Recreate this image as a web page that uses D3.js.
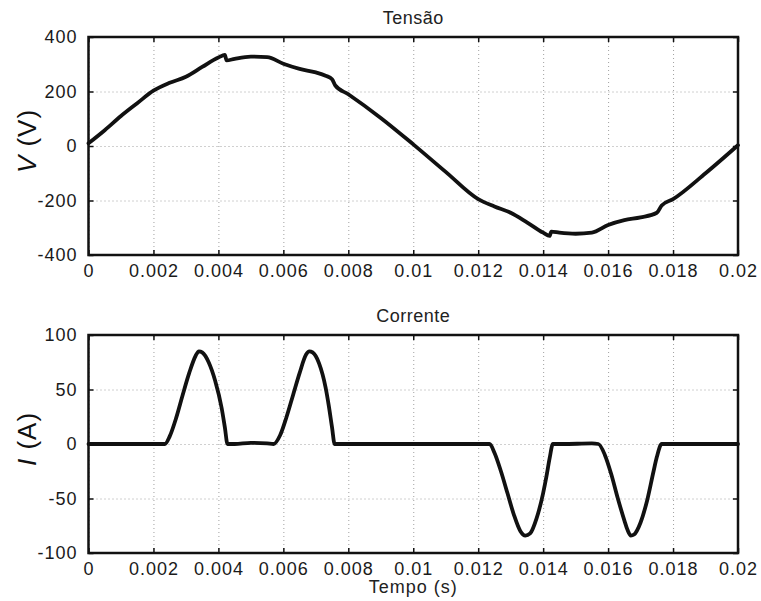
<!DOCTYPE html>
<html>
<head>
<meta charset="utf-8">
<script src="https://cdn.jsdelivr.net/npm/d3@7"></script>
<style>
  body { margin: 0; background: #fff; }
  svg { display: block; font-family: "Liberation Sans", Arial, sans-serif; }
  .tick text { font-size: 18px; fill: #1a1a1a; letter-spacing: 1px; }
  .grid line { stroke: #a0a0a0; stroke-width: 1; stroke-dasharray: 1,3; }
  .grid path, .edge path { display: none; }
  .edge line { stroke: #111; stroke-width: 1.5; }
  .wave { fill: none; stroke: #111; stroke-width: 3.8; stroke-linejoin: round; stroke-linecap: round; }
</style>
</head>
<body>
<svg id="chart" width="761" height="601"></svg>
<script>
// time ticks (s)
const timeTicks = [0, 0.002, 0.004, 0.006, 0.008, 0.01, 0.012, 0.014, 0.016, 0.018, 0.02];
const voltTicks = [-400, -200, 0, 200, 400];
const ampTicks = [-100, -50, 0, 50, 100];

// Tensão
const tVolt = [0, 0.0005, 0.001, 0.0015, 0.002, 0.0025, 0.003, 0.0035, 0.004, 0.0042, 0.00425, 0.0045, 0.005, 0.0055,
  0.006, 0.0065, 0.007, 0.0073, 0.0075, 0.0076, 0.008, 0.009, 0.01, 0.011, 0.012, 0.0125, 0.013, 0.0135, 0.014,
  0.0142, 0.01425, 0.0145, 0.015, 0.0155, 0.016, 0.0165, 0.017, 0.0175, 0.01765, 0.018, 0.019, 0.02];
const volt = [10, 58, 110, 157, 203, 232, 254, 290, 325, 334, 314, 320, 328, 326,
  302, 283, 270, 258, 245, 222, 190, 103, 6, -95, -195, -222, -245, -280, -318,
  -330, -314, -318, -322, -318, -290, -272, -262, -245, -218, -195, -100, 3];

// Corrente
const tAmp = [0, 0.00235, 0.0025, 0.0027, 0.0029, 0.0031, 0.0033, 0.0034, 0.0035, 0.0037, 0.0039, 0.0041, 0.0042, 0.00428,
  0.0045, 0.005, 0.0055, 0.0057, 0.0059, 0.0061, 0.0063, 0.0065, 0.0067, 0.0068, 0.0069, 0.0071, 0.0073, 0.0074, 0.0075, 0.00758,
  0.008, 0.01, 0.01235, 0.0125, 0.0127, 0.0129, 0.0131, 0.0133, 0.01345, 0.0136, 0.0138, 0.014, 0.0141, 0.0142, 0.0143,
  0.0146, 0.0155, 0.0157, 0.0159, 0.0161, 0.0163, 0.0165, 0.0166, 0.0167, 0.0168, 0.017, 0.0172, 0.0174, 0.0175, 0.01765,
  0.018, 0.02];
const amp = [0, 0, 7, 24, 45, 65, 81, 85, 84, 75, 58, 33, 15, 0,
  0, 1, 0.5, 0, 8, 25, 45, 65, 82, 85, 84, 74, 52, 35, 15, 0,
  0, 0, 0, -8, -25, -45, -65, -80, -84, -82, -68, -45, -30, -13, 0,
  0, 0.5, 0, -10, -28, -50, -70, -79, -84, -83, -72, -52, -25, -12, 0,
  0, 0];

const svg = d3.select("#chart");
const left = 88.5, right = 738;

const x = d3.scaleLinear().domain([0, 0.02]).range([left, right]);
const fmt = d => String(+d.toFixed(3));

const drawPanel = (cfg) => {
  const y = d3.scaleLinear().domain(cfg.domain).range([cfg.bottom, cfg.top]);
  const h = cfg.bottom - cfg.top;
  const g = svg.append("g");

  // grid
  g.append("g").attr("class", "grid")
    .attr("transform", "translate(0," + cfg.bottom + ")")
    .call(d3.axisBottom(x).tickValues(timeTicks).tickSize(-h).tickFormat(""));
  g.append("g").attr("class", "grid")
    .attr("transform", "translate(" + left + ",0)")
    .call(d3.axisLeft(y).tickValues(cfg.ticks).tickSize(-(right - left)).tickFormat(""));

  // the curve
  const line = d3.line()
    .x((d, i) => x(cfg.t[i]))
    .y(d => y(d))
    .curve(d3.curveMonotoneX);
  g.append("path").datum(cfg.values).attr("class", "wave").attr("d", line);

  // ticks inside, on all sides
  g.append("g").attr("class", "edge")
    .attr("transform", "translate(0," + cfg.bottom + ")")
    .call(d3.axisBottom(x).tickValues(timeTicks).tickSizeInner(-5).tickSizeOuter(0).tickPadding(9).tickFormat(fmt));
  g.append("g").attr("class", "edge")
    .attr("transform", "translate(0," + cfg.top + ")")
    .call(d3.axisTop(x).tickValues(timeTicks).tickSizeInner(-5).tickSizeOuter(0).tickFormat(""));
  g.append("g").attr("class", "edge")
    .attr("transform", "translate(" + left + ",0)")
    .call(d3.axisLeft(y).tickValues(cfg.ticks).tickSizeInner(-5).tickSizeOuter(0).tickPadding(11).tickFormat(d => String(d)));
  g.append("g").attr("class", "edge")
    .attr("transform", "translate(" + right + ",0)")
    .call(d3.axisRight(y).tickValues(cfg.ticks).tickSizeInner(-5).tickSizeOuter(0).tickFormat(""));

  // frame
  g.append("rect")
    .attr("x", left).attr("y", cfg.top)
    .attr("width", right - left).attr("height", h)
    .attr("fill", "none").attr("stroke", "#111").attr("stroke-width", 2.5);

  // title
  g.append("text")
    .attr("x", x(0.01)).attr("y", cfg.top - 13)
    .attr("text-anchor", "middle")
    .style("font-size", "18px").style("letter-spacing", "0.5px").attr("fill", "#222")
    .text(cfg.title);

  // y label
  const lab = g.append("text")
    .attr("transform", "translate(36," + (cfg.top + h / 2 - 5) + ") rotate(-90)")
    .attr("text-anchor", "middle")
    .style("font-size", "26px").style("letter-spacing", "1px").attr("fill", "#111");
  lab.append("tspan").style("font-style", "italic").text(cfg.sym);
  lab.append("tspan").text(" " + cfg.unit);
};

drawPanel({top: 37, bottom: 255, domain: [-400, 400], ticks: voltTicks, t: tVolt, values: volt,
  title: "Tensão", sym: "V", unit: "(V)"});
drawPanel({top: 335, bottom: 553, domain: [-100, 100], ticks: ampTicks, t: tAmp, values: amp,
  title: "Corrente", sym: "I", unit: "(A)"});

svg.append("text")
  .attr("x", x(0.01)).attr("y", 593)
  .attr("text-anchor", "middle")
  .style("font-size", "18px").style("letter-spacing", "1px").attr("fill", "#222")
  .text("Tempo (s)");
</script>
</body>
</html>
